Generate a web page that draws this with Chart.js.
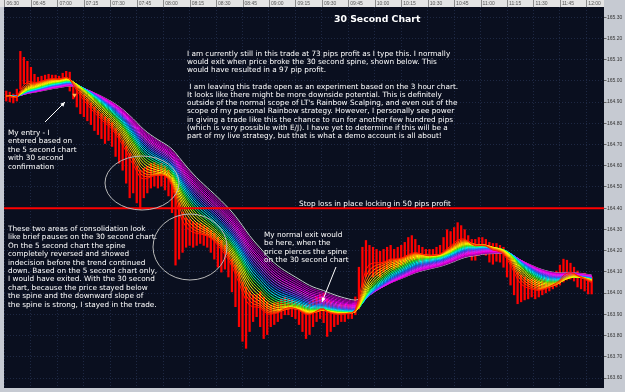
<!DOCTYPE html>
<html><head><meta charset="utf-8">
<script src="https://cdn.jsdelivr.net/npm/chart.js@4/dist/chart.umd.min.js"></script>
<style>
html,body{margin:0;padding:0;background:#c6cad2;}
#wrap{position:relative;width:625px;height:392px;overflow:hidden;}
#c{position:absolute;left:0;top:0;width:625px;height:392px;}
.t{position:absolute;color:#fff;font-family:"DejaVu Sans",sans-serif;font-size:7.3px;white-space:pre;}
</style></head><body>
<div id="wrap">
<canvas id="c" width="625" height="392"></canvas>
<div class="t" style="left:334px;top:13px;font-size:9.3px;font-weight:bold;line-height:11px;">30 Second Chart</div>
<div class="t" style="left:187px;top:49.9px;line-height:8.2px;">I am currently still in this trade at 73 pips profit as I type this. I normally
would exit when price broke the 30 second spine, shown below. This
would have resulted in a 97 pip profit.

 I am leaving this trade open as an experiment based on the 3 hour chart.
It looks like there might be more downside potential. This is definitely
outside of the normal scope of LT's Rainbow Scalping, and even out of the
scope of my personal Rainbow strategy. However, I personally see power
in giving a trade like this the chance to run for another few hundred pips
(which is very possible with E/J). I have yet to determine if this will be a
part of my live strategy, but that is what a demo account is all about!</div>
<div class="t" style="left:8px;top:128.8px;line-height:8.5px;">My entry - I
entered based on
the 5 second chart
with 30 second
confirmation</div>
<div class="t" style="left:8px;top:224.8px;line-height:8.44px;">These two areas of consolidation look
like brief pauses on the 30 second chart.
On the 5 second chart the spine
completely reversed and showed
indecision before the trend continued
down. Based on the 5 second chart only,
I would have exited. With the 30 second
chart, because the price stayed below
the spine and the downward slope of
the spine is strong, I stayed in the trade.</div>
<div class="t" style="left:299px;top:200px;line-height:8px;">Stop loss in place locking in 50 pips profit</div>
<div class="t" style="left:264px;top:230.7px;line-height:8.57px;">My normal exit would
be here, when the
price pierces the spine
on the 30 second chart</div>
</div>
<script>
// ---- axis tick labels ----
const timeLabels = ['06:30','06:45','07:00','07:15','07:30','07:45','08:00','08:15','08:30','08:45','09:00','09:15','09:30','09:45','10:00','10:15','10:30','10:45','11:00','11:15','11:30','11:45','12:00'];
const priceLabels = ['165.30','165.20','165.10','165.00','164.90','164.80','164.70','164.60','164.50','164.40','164.30','164.20','164.10','164.00','163.90','163.80','163.70','163.60'];

// ---- price bars (2-minute samples, starting 06:31) ----
const highs = [164.952,164.947,164.938,164.961,165.139,165.111,165.092,165.064,165.031,165.017,
165.022,165.027,165.031,165.027,165.027,165.022,165.036,165.045,165.041,164.989,
164.971,164.952,164.933,164.915,164.896,164.877,164.859,164.845,164.831,164.822,
164.803,164.775,164.752,164.719,164.691,164.658,164.635,164.598,164.579,164.588,
164.598,164.612,164.616,164.607,164.612,164.598,164.579,164.542,164.495,164.425,
164.379,164.355,164.346,164.337,164.332,164.327,164.318,164.309,164.295,164.281,
164.262,164.248,164.225,164.192,164.160,164.132,164.099,164.052,164.029,164.006,
163.992,163.992,164.006,163.982,163.959,163.945,163.954,163.959,163.973,163.982,
163.973,163.968,163.959,163.954,163.945,163.945,163.959,163.968,163.982,163.996,
164.001,163.973,163.959,163.945,163.945,163.945,163.945,163.945,163.936,163.982,
164.122,164.216,164.248,164.225,164.216,164.206,164.197,164.206,164.216,164.225,
164.206,164.216,164.225,164.239,164.262,164.271,164.253,164.225,164.216,164.206,
164.206,164.206,164.216,164.225,164.262,164.299,164.290,164.309,164.332,164.318,
164.299,164.271,164.253,164.253,164.262,164.262,164.253,164.239,164.234,164.234,
164.225,164.216,164.178,164.160,164.132,164.099,164.085,164.076,164.066,164.066,
164.062,164.057,164.066,164.076,164.085,164.094,164.104,164.132,164.160,164.155,
164.141,164.122,164.104,164.094,164.094,164.085,164.076];
const lows = [164.905,164.901,164.896,164.905,164.961,164.985,164.985,164.971,164.961,164.971,
164.980,164.985,164.989,164.989,164.989,164.985,164.989,164.989,164.952,164.915,
164.877,164.845,164.831,164.812,164.794,164.766,164.747,164.728,164.705,164.719,
164.691,164.644,164.612,164.579,164.518,164.449,164.472,164.425,164.393,164.449,
164.472,164.495,164.504,164.495,164.504,164.486,164.458,164.379,164.132,164.160,
164.192,164.216,164.225,164.216,164.225,164.234,164.225,164.216,164.192,164.160,
164.122,164.099,164.113,164.076,164.006,163.936,163.842,163.773,163.740,163.819,
163.866,163.889,163.842,163.786,163.805,163.842,163.852,163.866,163.880,163.898,
163.898,163.889,163.880,163.852,163.819,163.786,163.805,163.842,163.866,163.880,
163.861,163.796,163.819,163.842,163.852,163.866,163.866,163.880,163.880,163.898,
163.926,164.029,164.076,164.085,164.076,164.085,164.076,164.099,164.113,164.122,
164.113,164.122,164.132,164.146,164.160,164.160,164.160,164.146,164.136,164.141,
164.146,164.150,164.160,164.160,164.169,164.178,164.188,164.206,164.216,164.216,
164.206,164.178,164.155,164.155,164.178,164.188,164.178,164.146,164.136,164.150,
164.146,164.122,164.076,164.038,163.992,163.950,163.959,163.968,163.973,163.982,
163.973,163.982,163.992,164.001,164.010,164.020,164.029,164.038,164.052,164.062,
164.066,164.057,164.029,164.020,164.010,163.996,163.996];
const closes = [164.929,164.924,164.915,164.929,164.985,165.008,165.008,164.999,164.985,164.999,
165.003,165.008,165.013,165.013,165.008,165.008,165.017,165.022,164.999,164.952,
164.929,164.905,164.887,164.868,164.849,164.831,164.817,164.803,164.784,164.775,
164.756,164.728,164.700,164.672,164.635,164.598,164.579,164.542,164.514,164.532,
164.542,164.556,164.560,164.556,164.560,164.546,164.523,164.472,164.379,164.318,
164.299,164.285,164.281,164.276,164.276,164.276,164.271,164.262,164.248,164.230,
164.206,164.183,164.160,164.132,164.094,164.052,164.006,163.959,163.926,163.922,
163.926,163.936,163.926,163.898,163.889,163.898,163.908,163.912,163.926,163.936,
163.936,163.931,163.922,163.912,163.898,163.889,163.898,163.912,163.926,163.936,
163.926,163.898,163.898,163.898,163.898,163.903,163.903,163.908,163.908,163.936,
164.029,164.132,164.169,164.160,164.146,164.146,164.141,164.150,164.160,164.169,
164.160,164.164,164.169,164.178,164.192,164.192,164.197,164.183,164.178,164.174,
164.174,164.178,164.183,164.188,164.206,164.225,164.234,164.253,164.262,164.262,
164.253,164.234,164.216,164.216,164.225,164.225,164.220,164.202,164.192,164.197,
164.188,164.174,164.136,164.104,164.066,164.029,164.020,164.020,164.015,164.015,
164.010,164.010,164.020,164.029,164.038,164.048,164.057,164.076,164.104,164.104,
164.099,164.090,164.071,164.066,164.057,164.048,164.043];

const stopLevel = 164.40;          // stop-loss line
const entryMinute = 39.7;          // minutes after 06:30
const entryPrice = 164.933;

// rainbow ribbon = exponential moving averages of the closes (fast -> slow)
const ribbonPeriods = [3,4.3,5.5,6.8,8,9.3,10.6,11.8,13.1,14.3,15.6,16.9,18.1,19.4,20.6,21.9,23.2,24.4,25.7,26.9,28.2,29.5,30.7,32];
const ribbonColors = ['#ff1a00','#ff4d00','#ff8000','#ffb300','#ffe000','#ffff00','#d4ff00','#8cff00','#33ff33','#00ff99','#00ffee','#00ccff','#0099ff','#3366ff','#6a3dff','#9933ff','#c42bff','#e61ae6','#ff00ff','#e000e0','#cc00cc','#b800b8','#a000a0','#c8c8d0'];

const barMinutes = closes.map((_, i) => 1 + 2 * i);

function ema(src, n) {
  const a = 2 / (n + 1); const out = []; let v = src[0];
  for (let i = 0; i < src.length; i++) { if (i > 0) v = v + a * (src[i] - v); out.push(v); }
  return out;
}

const datasets = [];
datasets.push({type:'bar', data: barMinutes.map((m,i)=>({x:m, y:[lows[i], highs[i]]})),
  backgroundColor:'#ff0000', barThickness:1.6, order:100});
ribbonPeriods.forEach((n,k)=>{
  const e = ema(closes, n);
  datasets.push({type:'line', data: e.map((v,i)=>({x:barMinutes[i], y:v})), borderColor: ribbonColors[k],
    borderWidth:1, pointRadius:0, tension:0, order: 10 + k});
});
datasets.push({type:'line', data:[{x:-0.28,y:stopLevel},{x:340,y:stopLevel}], borderColor:'#ff0000', borderWidth:2, pointRadius:0, order:2});
datasets.push({type:'scatter', data:[{x:entryMinute,y:entryPrice}], pointStyle:'triangle', rotation:180, radius:2.6,
  backgroundColor:'#ffb347', borderColor:'#ffb347', borderWidth:0, order:1});

function arrow(ctx, x1, y1, x2, y2) {
  ctx.beginPath(); ctx.moveTo(x1,y1); ctx.lineTo(x2,y2); ctx.stroke();
  const ang = Math.atan2(y2-y1, x2-x1), L = 5;
  ctx.beginPath(); ctx.moveTo(x2,y2);
  ctx.lineTo(x2 - L*Math.cos(ang-0.45), y2 - L*Math.sin(ang-0.45));
  ctx.lineTo(x2 - L*Math.cos(ang+0.45), y2 - L*Math.sin(ang+0.45));
  ctx.closePath(); ctx.fill();
}

const decor = {
  id:'decor',
  beforeDraw(chart){
    const {ctx, chartArea:a} = chart;
    ctx.save();
    ctx.fillStyle = '#c6cad2'; ctx.fillRect(0,0,chart.width,chart.height);
    ctx.fillStyle = '#e4e4e4'; ctx.fillRect(0,0,a.right,a.top);
    ctx.fillStyle = '#0a0f1f'; ctx.fillRect(a.left,a.top,a.right-a.left,a.bottom-a.top);
    const xs = chart.scales.x;
    ctx.strokeStyle = '#8a8a8a'; ctx.lineWidth = 1;
    xs.ticks.forEach(t=>{ const px = Math.round(xs.getPixelForValue(t.value))+0.5; ctx.beginPath(); ctx.moveTo(px,0); ctx.lineTo(px,a.top); ctx.stroke(); });
    ctx.restore();
  },
  afterDatasetsDraw(chart){
    const ctx = chart.ctx;
    ctx.save();
    ctx.strokeStyle = '#b8b8b8'; ctx.lineWidth = 1;
    ctx.beginPath(); ctx.ellipse(142,183,37,27,0,0,Math.PI*2); ctx.stroke();
    ctx.beginPath(); ctx.ellipse(190,247,37,33,0,0,Math.PI*2); ctx.stroke();
    ctx.strokeStyle = '#ffffff'; ctx.fillStyle = '#ffffff';
    arrow(ctx, 45, 122, 65, 102);
    arrow(ctx, 336, 267, 322, 302);
    ctx.restore();
  }
};

new Chart(document.getElementById('c'), {
  type:'bar',
  data:{datasets},
  plugins:[decor],
  options:{
    responsive:false, animation:false, devicePixelRatio:1,
    layout:{padding:0},
    plugins:{legend:{display:false}, tooltip:{enabled:false}},
    scales:{
      x:{type:'linear', position:'top', min:-0.28, max:340, offset:false,
        afterBuildTicks: s => { s.ticks = timeLabels.map((_,k)=>({value:k*15})); },
        afterFit: s => { s.height = 7; },
        ticks:{autoSkip:false, maxRotation:0, align:'start', labelOffset:2, padding:0.5,
          font:{family:'Liberation Sans', size:5}, color:'#555', callback:(v,i)=>timeLabels[i]},
        grid:{color:'rgba(70,90,135,0.35)', drawTicks:false, offset:false, lineWidth:1},
        border:{display:false, dash:[1,2]}},
      y:{type:'linear', position:'right', min:163.553, max:165.348,
        afterBuildTicks: s => { s.ticks = priceLabels.map(l=>({value:parseFloat(l)})); },
        afterFit: s => { s.width = 21; },
        ticks:{autoSkip:false, padding:0.5, font:{family:'Liberation Sans', size:5}, color:'#333', callback:(v,i)=>priceLabels[i]},
        grid:{color:'rgba(70,90,135,0.35)', tickColor:'#666', tickLength:2.5},
        border:{display:false, dash:[1,2]}}
    }
  }
});
</script>
</body></html>
